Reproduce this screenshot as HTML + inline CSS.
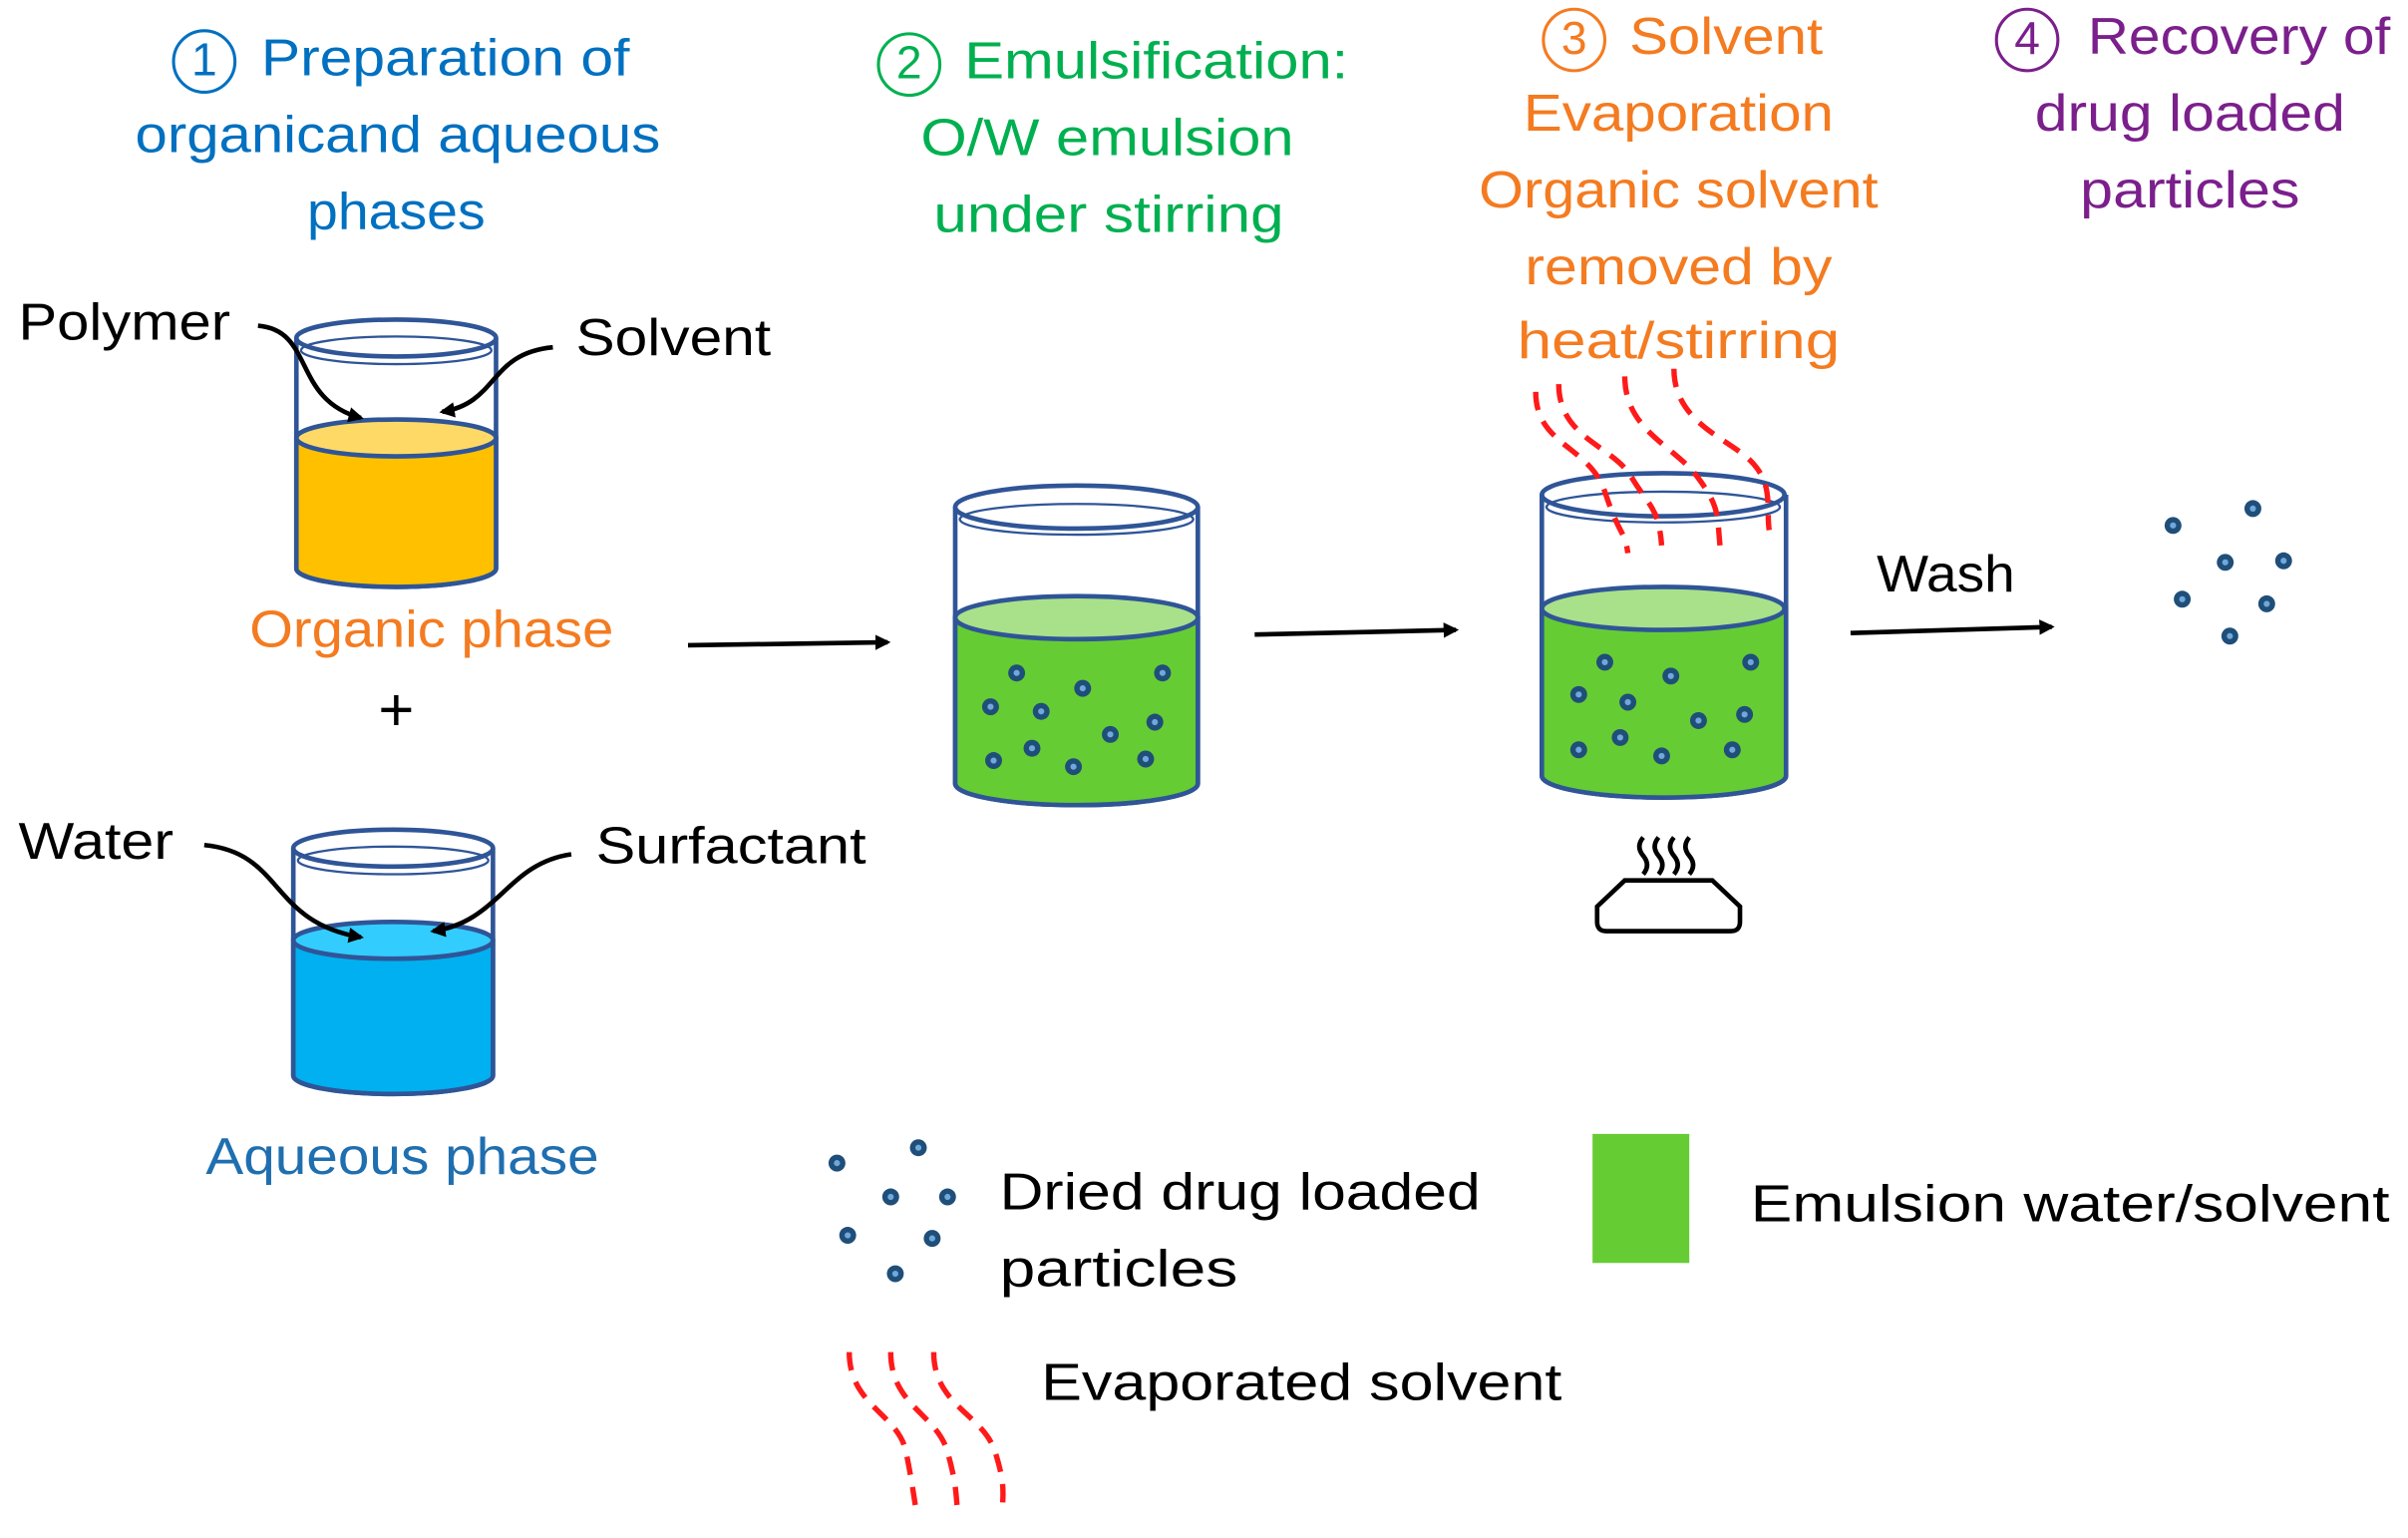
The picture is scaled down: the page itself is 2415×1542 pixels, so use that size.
<!DOCTYPE html>
<html><head><meta charset="utf-8"><style>html,body{margin:0;padding:0;background:#fff}svg{display:block}</style></head>
<body>
<svg width="2415" height="1542" viewBox="0 0 1568 1001" preserveAspectRatio="none" xmlns="http://www.w3.org/2000/svg" font-family="Liberation Sans, sans-serif">
<defs>
<marker id="ah" markerWidth="10" markerHeight="10" refX="8" refY="5" orient="auto" markerUnits="userSpaceOnUse"><path d="M0,0 L10,5 L0,10 z" fill="#000"/></marker>
<g id="dot"><circle r="5.5" fill="#1f4e79"/><circle r="2" fill="#6fa8dc"/></g>
</defs>
<g font-size="34" text-anchor="middle" dominant-baseline="middle" lengthAdjust="spacingAndGlyphs">
<g fill="#0070C0"><circle cx="133" cy="40" r="20" fill="none" stroke="#0070C0" stroke-width="2"/><text x="133" y="41" font-size="30">1</text>
<text x="290" y="40" textLength="240" lengthAdjust="spacingAndGlyphs">Preparation of</text><text x="259" y="90" textLength="342" lengthAdjust="spacingAndGlyphs">organicand aqueous</text><text x="258" y="140" textLength="116" lengthAdjust="spacingAndGlyphs">phases</text></g>
<g fill="#00B050"><circle cx="592" cy="42" r="20" fill="none" stroke="#00B050" stroke-width="2"/><text x="592" y="43" font-size="30">2</text>
<text x="753" y="42" textLength="250" lengthAdjust="spacingAndGlyphs">Emulsification:</text><text x="721" y="92" textLength="243" lengthAdjust="spacingAndGlyphs">O/W emulsion</text><text x="722" y="142" textLength="228" lengthAdjust="spacingAndGlyphs">under stirring</text></g>
<g fill="#F47B20"><circle cx="1025" cy="26" r="20" fill="none" stroke="#F47B20" stroke-width="2"/><text x="1025" y="27" font-size="30">3</text>
<text x="1124" y="26" textLength="126" lengthAdjust="spacingAndGlyphs">Solvent</text><text x="1093" y="76" textLength="202" lengthAdjust="spacingAndGlyphs">Evaporation</text><text x="1093" y="126" textLength="260" lengthAdjust="spacingAndGlyphs">Organic solvent</text><text x="1093" y="176" textLength="200" lengthAdjust="spacingAndGlyphs">removed by</text><text x="1093" y="224" textLength="210" lengthAdjust="spacingAndGlyphs">heat/stirring</text></g>
<g fill="#7B1F8C"><circle cx="1320" cy="26" r="20" fill="none" stroke="#7B1F8C" stroke-width="2"/><text x="1320" y="27" font-size="30">4</text>
<text x="1458" y="26" textLength="197" lengthAdjust="spacingAndGlyphs">Recovery of</text><text x="1426" y="76" textLength="202" lengthAdjust="spacingAndGlyphs">drug loaded</text><text x="1426" y="126" textLength="143" lengthAdjust="spacingAndGlyphs">particles</text></g>
<text x="281" y="412" fill="#F47B20" textLength="237" lengthAdjust="spacingAndGlyphs">Organic phase</text>
<text x="258" y="465" fill="#000" font-size="40">+</text>
<text x="262" y="755" fill="#1f6fb0" textLength="256" lengthAdjust="spacingAndGlyphs">Aqueous phase</text>
</g>
<g font-size="34" fill="#000" dominant-baseline="middle">
<text x="12" y="212" textLength="138" lengthAdjust="spacingAndGlyphs">Polymer</text><text x="375" y="222" textLength="127" lengthAdjust="spacingAndGlyphs">Solvent</text>
<text x="12" y="550" textLength="101" lengthAdjust="spacingAndGlyphs">Water</text><text x="388" y="553" textLength="176" lengthAdjust="spacingAndGlyphs">Surfactant</text>
<text x="1222" y="376" textLength="90" lengthAdjust="spacingAndGlyphs">Wash</text>
<text x="651" y="778" textLength="313" lengthAdjust="spacingAndGlyphs">Dried drug loaded</text><text x="651" y="828" textLength="155" lengthAdjust="spacingAndGlyphs">particles</text>
<text x="1140" y="786" textLength="416" lengthAdjust="spacingAndGlyphs">Emulsion water/solvent</text>
<text x="678" y="902" textLength="339" lengthAdjust="spacingAndGlyphs">Evaporated solvent</text>
</g>
<!-- beaker 1 -->
<g stroke="#2f5597" stroke-width="3">
<path d="M193,220 V370 A65,12 0 0 0 323,370 V220" fill="#fff"/>
<path d="M193,285 V370 A65,12 0 0 0 323,370 V285 z" fill="#FFC000"/>
<ellipse cx="258" cy="285" rx="65" ry="12" fill="#FFD966"/>
<ellipse cx="258" cy="220" rx="65" ry="12" fill="none"/>
<ellipse cx="258" cy="228" rx="62" ry="9" fill="none" stroke-width="1.5"/>
</g>
<!-- beaker 2 -->
<g stroke="#2f5597" stroke-width="3">
<path d="M191,552 V700 A65,12 0 0 0 321,700 V552" fill="#fff"/>
<path d="M191,612 V700 A65,12 0 0 0 321,700 V612 z" fill="#00B0F0"/>
<ellipse cx="256" cy="612" rx="65" ry="12" fill="#33CCFF"/>
<ellipse cx="256" cy="552" rx="65" ry="12" fill="none"/>
<ellipse cx="256" cy="560" rx="62" ry="9" fill="none" stroke-width="1.5"/>
</g>
<!-- beaker 3 -->
<g stroke="#2f5597" stroke-width="3">
<path d="M622,330 V510 A79,14 0 0 0 780,510 V330" fill="#fff"/>
<path d="M622,402 V510 A79,14 0 0 0 780,510 V402 z" fill="#66CC33"/>
<ellipse cx="701" cy="402" rx="79" ry="14" fill="#A9E08A"/>
<ellipse cx="701" cy="330" rx="79" ry="14" fill="none"/>
<ellipse cx="701" cy="338" rx="76" ry="10" fill="none" stroke-width="1.5"/>
</g>
<!-- beaker 4 -->
<g stroke="#2f5597" stroke-width="3">
<path d="M1004,322 V505 A79,14 0 0 0 1163,505 V322" fill="#fff"/>
<path d="M1004,396 V505 A79,14 0 0 0 1163,505 V396 z" fill="#66CC33"/>
<ellipse cx="1083" cy="396" rx="79" ry="14" fill="#A9E08A"/>
<ellipse cx="1083" cy="322" rx="79" ry="14" fill="none"/>
<ellipse cx="1083" cy="330" rx="76" ry="10" fill="none" stroke-width="1.5"/>
</g>
<!-- dots -->
<g>
<use href="#dot" x="662" y="438"/><use href="#dot" x="705" y="448"/><use href="#dot" x="757" y="438"/><use href="#dot" x="645" y="460"/><use href="#dot" x="678" y="463"/><use href="#dot" x="723" y="478"/><use href="#dot" x="752" y="470"/><use href="#dot" x="647" y="495"/><use href="#dot" x="672" y="487"/><use href="#dot" x="699" y="499"/><use href="#dot" x="746" y="494"/>
<use href="#dot" x="1045" y="431"/><use href="#dot" x="1088" y="440"/><use href="#dot" x="1140" y="431"/><use href="#dot" x="1028" y="452"/><use href="#dot" x="1060" y="457"/><use href="#dot" x="1106" y="469"/><use href="#dot" x="1136" y="465"/><use href="#dot" x="1028" y="488"/><use href="#dot" x="1055" y="480"/><use href="#dot" x="1082" y="492"/><use href="#dot" x="1128" y="488"/>
<use href="#dot" x="1415" y="342"/><use href="#dot" x="1467" y="331"/><use href="#dot" x="1449" y="366"/><use href="#dot" x="1487" y="365"/><use href="#dot" x="1421" y="390"/><use href="#dot" x="1476" y="393"/><use href="#dot" x="1452" y="414"/>
<use href="#dot" x="545" y="757"/><use href="#dot" x="598" y="747"/><use href="#dot" x="580" y="779"/><use href="#dot" x="617" y="779"/><use href="#dot" x="552" y="804"/><use href="#dot" x="607" y="806"/><use href="#dot" x="583" y="829"/>
</g>
<rect x="1037" y="738" width="63" height="84" fill="#66CC33"/>
<!-- arrows -->
<g stroke="#000" stroke-width="3" fill="none" marker-end="url(#ah)">
<path d="M448,420 L578,418"/><path d="M817,413 L948,410"/><path d="M1205,412 L1336,408"/>
<path d="M168,212 C205,215 190,260 235,272"/><path d="M360,226 C318,230 325,262 288,268"/>
<path d="M133,550 C185,555 175,600 235,610"/><path d="M372,556 C330,562 325,600 282,606"/>
</g>
<!-- red vapor lines -->
<g stroke="#ff1a1a" stroke-width="3.5" fill="none" stroke-dasharray="12,8">
<path d="M1000,255 C1000,290 1035,290 1045,320 S1058,345 1060,360"/>
<path d="M1015,250 C1015,285 1050,290 1062,310 S1080,330 1082,355"/>
<path d="M1058,245 C1058,280 1090,290 1105,310 S1118,335 1120,355"/>
<path d="M1090,240 C1090,275 1125,285 1140,300 S1150,330 1152,345"/>
<path d="M553,880 C553,915 585,920 590,945 S595,975 597,985"/>
<path d="M580,880 C580,915 610,920 617,945 S622,975 624,985"/>
<path d="M608,880 C608,915 640,920 648,945 S652,975 653,985"/>
</g>
<!-- hot plate -->
<g stroke="#000" stroke-width="3" fill="none">
<path d="M1040,590 L1058,573 L1115,573 L1133,590 V600 Q1133,606 1127,606 H1046 Q1040,606 1040,600 Z"/>
<path d="M1070,545 q-5,6 0,12 q5,6 0,12" /><path d="M1080,545 q-5,6 0,12 q5,6 0,12"/><path d="M1090,545 q-5,6 0,12 q5,6 0,12"/><path d="M1100,545 q-5,6 0,12 q5,6 0,12"/>
</g>
</svg>
</body></html>
